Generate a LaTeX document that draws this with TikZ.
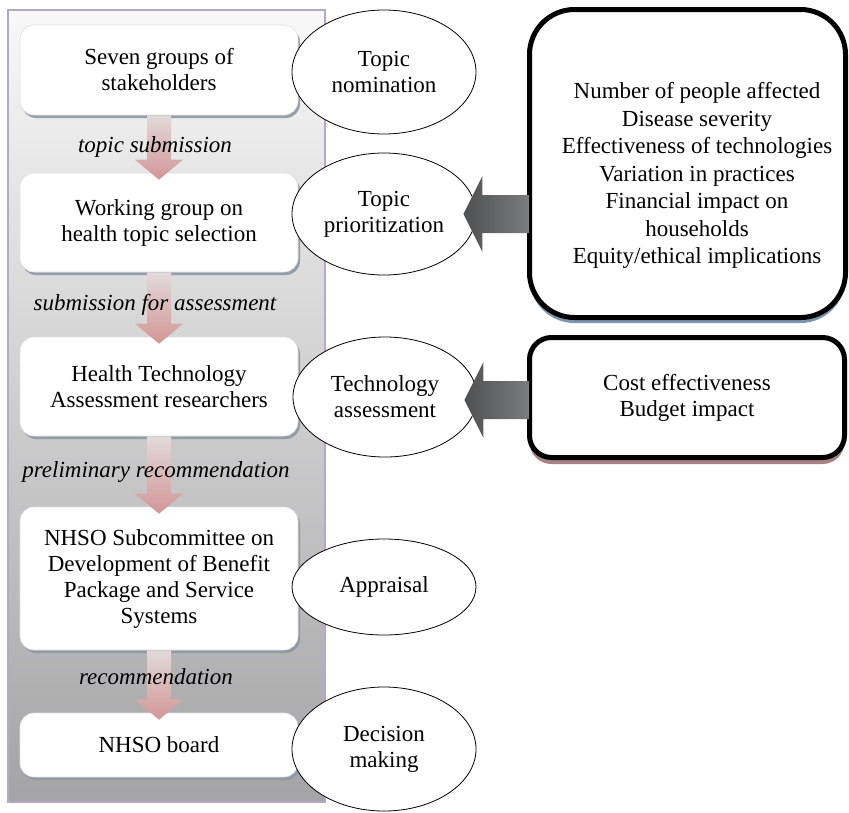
\documentclass[tikz,border=0pt]{standalone}
\usepackage{fontspec}
\setmainfont{Liberation Serif}
\usetikzlibrary{shapes.geometric,shadows,calc}
\definecolor{panelborder}{HTML}{B5A9C9}
\definecolor{paneltop}{HTML}{F8F8F8}
\definecolor{panelbot}{HTML}{A4A4A6}
\definecolor{lshadow}{HTML}{8E98A3}
\definecolor{pinktop}{HTML}{E2DADA}
\definecolor{pinkbot}{HTML}{D39696}
\definecolor{gleft}{HTML}{4E5052}
\definecolor{gright}{HTML}{7A7C7E}
\definecolor{blueshadow}{HTML}{7D95B0}
\definecolor{redshadow}{HTML}{A88282}
\newcommand{\fsz}{\fontsize{23}{26}\selectfont}
\newcommand{\pinkarrow}[2]{%
  \shade[top color=pinktop, bottom color=pinkbot] let \p1=(#1.south), \p2=(#2.north) in
  (\x1-12pt,\y1) -- (\x1-12pt,\y2+13pt) -- (\x1-24pt,\y2+13pt) -- (\x1,\y2-7pt)
  -- (\x1+24pt,\y2+13pt) -- (\x1+12pt,\y2+13pt) -- (\x1+12pt,\y1) -- cycle;}
\newcommand{\grayarrow}[3]{%
  \shade[left color=gleft, right color=gright] let \p1=(#1.west), \p2=(#2.east) in
  (\x1+2pt,\y2+19pt+#3) -- (\x2+6pt,\y2+19pt+#3) -- (\x2+6pt,\y2+38pt+#3) -- (\x2-13pt,\y2+#3)
  -- (\x2+6pt,\y2-38pt+#3) -- (\x2+6pt,\y2-19pt+#3) -- (\x1+2pt,\y2-19pt+#3) -- cycle;}
\begin{document}
\begin{tikzpicture}[x=1pt,y=-1pt,
  lbox/.style={draw=black!12, line width=0.6pt, fill=white, rounded corners=14pt,
    minimum width=278pt, inner sep=0pt, align=center, font=\fsz,
    drop shadow={shadow xshift=2pt, shadow yshift=-3pt, fill=lshadow, opacity=0.9}},
  lbl/.style={font=\fsz\itshape, inner sep=0pt},
  ell/.style={ellipse, draw, line width=0.8pt, fill=white, minimum width=184pt,
    inner sep=0pt, align=center, font=\fsz},
  rbox/.style={draw, line width=5pt, fill=white, align=center, font=\fsz, inner sep=0pt}]
\useasboundingbox (0,0) rectangle (849,812);

% left panel
\draw[panelborder, line width=2pt, top color=paneltop, bottom color=panelbot]
  (8,10) rectangle (325,802);

% left boxes
\node[lbox, minimum height=90pt]  (b1) at (159,70)    {Seven groups of\\stakeholders};
\node[lbox, minimum height=99pt]  (b2) at (159,222.5) {Working group on\\health topic selection};
\node[lbox, minimum height=99pt]  (b3) at (159,386.5) {Health Technology\\Assessment researchers};
\node[lbox, minimum height=143pt] (b4) at (159,578.5) {NHSO Subcommittee on\\Development of Benefit\\Package and Service\\Systems};
\node[lbox, minimum height=64pt]  (b5) at (159,745)   {NHSO board};

% pink down arrows
\pinkarrow{b1}{b2}
\pinkarrow{b2}{b3}
\pinkarrow{b3}{b4}
\pinkarrow{b4}{b5}

% labels
\node[lbl] (l1) at (155,147) {topic submission};
\node[lbl] (l2) at (155,305) {submission for assessment};
\node[lbl] (l3) at (156,472) {preliminary recommendation};
\node[lbl] (l4) at (156,677) {recommendation};

% ellipses
\node[ell, minimum height=124pt] (e1) at (384,72)  {Topic\\nomination};
\node[ell, minimum height=122pt] (e2) at (384,214) {Topic\\prioritization};
\node[ell, minimum height=120pt] (e3) at (385,397) {Technology\\assessment};
\node[ell, minimum height=96pt]  (e4) at (384,587) {Appraisal};
\node[ell, minimum height=124pt] (e5) at (384,749) {Decision\\making};

% right boxes
\node[rbox, rounded corners=45pt, minimum width=316pt, minimum height=308pt,
  drop shadow={shadow xshift=0pt, shadow yshift=-5.5pt, fill=blueshadow, opacity=1}]
  (r1) at (687.5,163.5) {};
\node[font=\fontsize{23}{27.5}\selectfont, align=center, inner sep=0pt] (r1t) at (697,175.5)
  {Number of people affected\\Disease severity\\Effectiveness of technologies\\Variation in practices\\Financial impact on\\households\\Equity/ethical implications};
\node[rbox, rounded corners=22pt, minimum width=315pt, minimum height=120pt,
  drop shadow={shadow xshift=0pt, shadow yshift=-6.5pt, fill=redshadow, opacity=1}]
  (r2) at (687,397.5) {Cost effectiveness\\Budget impact};

% gray arrows
\grayarrow{r1}{e2}{0pt}
\grayarrow{r2}{e3}{-3pt}
\end{tikzpicture}
\end{document}
